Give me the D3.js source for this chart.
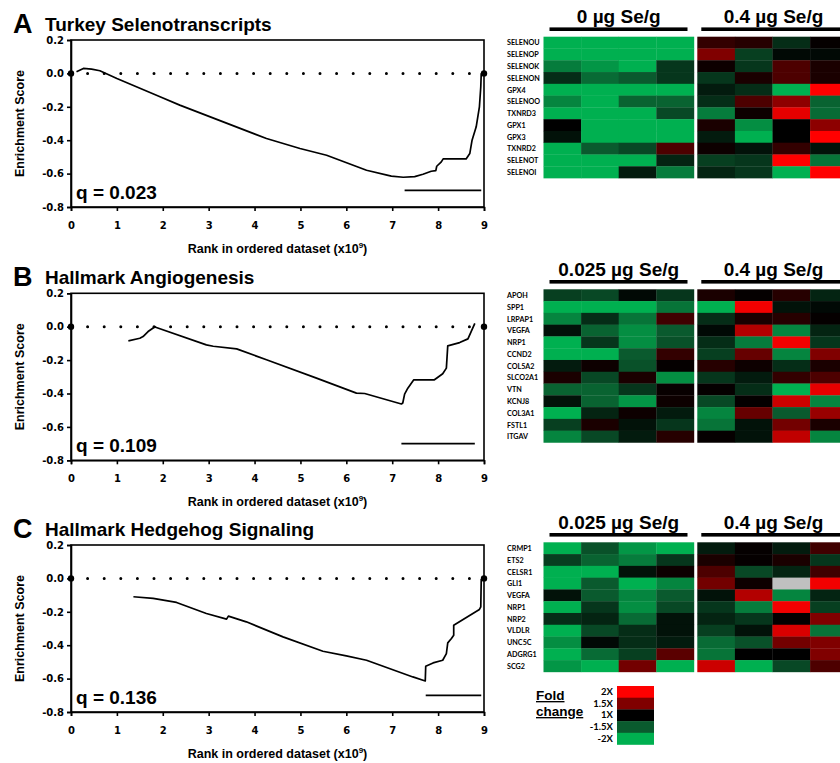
<!DOCTYPE html>
<html>
<head>
<meta charset="utf-8">
<script src="https://cdn.jsdelivr.net/npm/d3@7"></script>
<style>
  body { margin: 0; background: #fff; }
  svg { display: block; font-family: "Liberation Sans", Arial, sans-serif; }
</style>
</head>
<body>
<svg id="fig" width="840" height="763"></svg>
<script>
// ---- data ----
var rankTicks = [0, 1, 2, 3, 4, 5, 6, 7, 8, 9];
var esTicks = [0.2, 0.0, -0.2, -0.4, -0.6, -0.8];

// running enrichment score, [rank (x1e9), ES]
var curveA = [[0.12, 0.01], [0.27, 0.03], [0.45, 0.026], [0.63, 0.016], [1.0, -0.03], [1.94, -0.14],
  [2.37, -0.19], [4.26, -0.39], [4.99, -0.45], [5.57, -0.49], [6.44, -0.58], [6.98, -0.615],
  [7.24, -0.622], [7.49, -0.618], [7.67, -0.604], [7.85, -0.586], [7.95, -0.582], [7.97, -0.556],
  [8.07, -0.53], [8.11, -0.512], [8.61, -0.512], [8.69, -0.48], [8.74, -0.40], [8.83, -0.32],
  [8.90, -0.20], [8.93, -0.08], [8.94, 0.0]];
var curveB = [[1.25, -0.085], [1.50, -0.069], [1.57, -0.059], [1.68, -0.029], [1.83, 0.0], [1.86, -0.005],
  [2.95, -0.109], [3.10, -0.117], [3.61, -0.133], [4.26, -0.198], [5.35, -0.308], [6.22, -0.398],
  [6.40, -0.400], [7.20, -0.463], [7.23, -0.457], [7.27, -0.404], [7.34, -0.368], [7.47, -0.318],
  [7.92, -0.318], [8.10, -0.282], [8.18, -0.248], [8.21, -0.115], [8.47, -0.095], [8.65, -0.073],
  [8.80, 0.02]];
var curveC = [[1.36, -0.11], [1.79, -0.12], [2.30, -0.144], [2.95, -0.21], [3.39, -0.244], [3.43, -0.226],
  [3.82, -0.26], [4.62, -0.35], [5.49, -0.436], [6.0, -0.464], [6.44, -0.49], [7.45, -0.59],
  [7.72, -0.614], [7.73, -0.526], [7.89, -0.506], [8.10, -0.49], [8.18, -0.45], [8.21, -0.386],
  [8.29, -0.36], [8.34, -0.34], [8.34, -0.28], [8.90, -0.186], [8.93, -0.17], [8.94, -0.004]];

// leading-edge bar at ES = -0.7, [from, to]
var edgeA = [7.27, 8.94];
var edgeB = [7.20, 8.80];
var edgeC = [7.73, 8.94];

var titles = ["Turkey Selenotranscripts", "Hallmark Angiogenesis", "Hallmark Hedgehog Signaling"];
var letters = ["A", "B", "C"];
var qValues = ["0.023", "0.109", "0.136"];
var lowDose = ["0 \u00b5g Se/g", "0.025 \u00b5g Se/g", "0.025 \u00b5g Se/g"];
var highDose = "0.4 \u00b5g Se/g";

// heatmaps: -1 = -2X (green), 0 = 1X (black), 1 = 2X (red), null = missing
var genesA = ["SELENOU", "SELENOP", "SELENOK", "SELENON", "GPX4", "SELENOO", "TXNRD3", "GPX1", "GPX3", "TXNRD2", "SELENOT", "SELENOI"];
var lowA = [[-1, -1, -1, -1], [-1, -1, -1, -1], [-0.7, -0.85, -1, -0.3], [-0.25, -0.6, -0.5, -0.3],
  [-1, -1, -1, -1], [-0.75, -1, -0.55, -0.55], [-1, -1, -1, -0.4], [0, -1, -1, -1],
  [-0.1, -1, -1, -1], [-1, -0.5, -0.4, 0.3], [-1, -1, -1, -0.2], [-1, -1, -0.15, -0.7]];
var highA = [[0.2, 0.15, -0.25, 0.02], [0.5, -0.35, -0.05, -0.05], [0.05, -0.3, 0.3, 0.1], [-0.3, 0.1, 0.3, 0.1],
  [-0.15, -0.25, -1, 1], [-0.25, 0.3, 0.55, -0.55], [-0.7, 0.05, 0.9, -0.6], [0.1, -0.8, 0.0, 0.55],
  [-0.15, -1, 0.0, 1], [0.05, -0.1, 0.2, -0.1], [-0.35, -0.3, 1, -0.65], [-0.2, -0.3, -1, 1]];

var genesB = ["APOH", "SPP1", "LRPAP1", "VEGFA", "NRP1", "CCND2", "COL5A2", "SLCO2A1", "VTN", "KCNJ8", "COL3A1", "FSTL1", "ITGAV"];
var lowB = [[-0.35, -0.4, -0.05, -0.3], [-1, -1, -1, -0.65], [-0.75, -0.25, -0.65, 0.25], [-0.1, -0.55, -0.8, -0.5],
  [-1, -0.3, -0.8, -0.45], [-1, -1, -0.5, 0.2], [-0.15, 0.05, -0.45, 0.02], [0.1, -0.4, 0.1, -0.8],
  [-0.55, -0.55, -0.3, 0.03], [-0.1, -0.55, -0.85, 0.05], [-1, -0.2, 0.05, -0.15], [-0.35, 0.1, -0.1, -0.3],
  [-0.75, -0.4, -0.15, 0.15]];
var highB = [[0.1, 0.02, 0.15, -0.2], [-1, 0.95, -0.1, -0.05], [-0.25, 0.1, 0.15, 0.02], [-0.05, 0.7, -0.75, -0.2],
  [-0.25, -0.7, 0.95, -0.3], [-0.35, 0.4, -0.75, 0.5], [0.15, 0.05, -0.25, 0.1], [-0.3, -0.15, 0.2, 0.3],
  [0.02, -0.25, -1, 0.9], [-0.4, 0.02, 0.8, -0.75], [-0.75, 0.4, -0.5, 0.6], [-0.65, -0.1, 0.45, 0.1],
  [0.02, -0.1, 0.75, -0.75]];

var genesC = ["CRMP1", "ETS2", "CELSR1", "GLI1", "VEGFA", "NRP1", "NRP2", "VLDLR", "UNC5C", "ADGRG1", "SCG2"];
var lowC = [[-1, -0.45, -0.85, -1], [-0.35, -0.55, -0.7, -0.3], [-1, -1, -0.1, 0.05], [-1, -0.5, -1, -0.75],
  [-0.1, -0.5, -0.75, -0.5], [-1, -0.3, -0.8, -0.4], [-0.25, -0.2, -0.6, -0.1], [-1, -0.4, -0.25, -0.1],
  [-0.8, -0.05, -0.25, -0.15], [-1, -0.6, -0.35, 0.35], [-0.85, -1, 0.45, -1]];
var highC = [[-0.15, 0.02, -0.15, 0.25], [0.1, 0.02, 0.1, -0.3], [0.3, -0.4, -0.2, 0.25], [0.45, 0.05, null, 0.95],
  [-0.1, 0.7, -0.75, -0.2], [-0.3, -0.7, 0.95, -0.35], [-0.2, -0.3, 0.02, 0.5], [-0.35, -0.1, 0.85, -0.65],
  [-0.6, -0.45, 0.45, 0.5], [-0.65, 0.0, 0.0, 0.5], [0.8, -1, -0.4, 0.3]];

var legendLabels = ["2X", "1.5X", "1X", "-1.5X", "-2X"];
var legendValues = [1, 0.5, 0, -0.5, -1];

// ---- drawing ----
var svg = d3.select("#fig");
var color = d3.scaleLinear()
  .domain([-1, -0.5, 0, 0.5, 1])
  .range(["#00b050", "#0a5a2e", "#000000", "#800000", "#ff0000"])
  .clamp(true);

var panels = [
  { top: 40, curve: curveA, edge: edgeA, genes: genesA, low: lowA, high: highA, hmTop: 36.7 },
  { top: 293.3, curve: curveB, edge: edgeB, genes: genesB, low: lowB, high: highB, hmTop: 289.3 },
  { top: 545, curve: curveC, edge: edgeC, genes: genesC, low: lowC, high: highC, hmTop: 542.3 }
];

var plotW = [71, 484], plotH = 167;
var labelFont = "Lato, 'Open Sans', sans-serif";

panels.forEach(function(p, i) {
  var g = svg.append("g");
  var x = d3.scaleLinear().domain([0, 9]).range(plotW);
  var y = d3.scaleLinear().domain([-0.8, 0.2]).range([p.top + plotH, p.top]);

  // titles
  g.append("text").attr("x", 13).attr("y", p.top - 7)
    .attr("font-size", 27).attr("font-weight", "bold").text(letters[i]);
  g.append("text").attr("x", 45).attr("y", p.top - 9)
    .attr("font-size", 19).attr("font-weight", "bold").text(titles[i]);

  // frame
  g.append("rect").attr("x", x(0)).attr("y", y(0.2))
    .attr("width", x(9) - x(0)).attr("height", y(-0.8) - y(0.2))
    .attr("fill", "none").attr("stroke", "#000").attr("stroke-width", 1.6);

  var yAxis = g.append("g").attr("transform", "translate(" + x(0) + ",0)")
    .call(d3.axisLeft(y).tickValues(esTicks).tickSize(4).tickPadding(3)
      .tickFormat(function(d) { return d.toFixed(1); }));
  var xAxis = g.append("g").attr("transform", "translate(0," + y(-0.8) + ")")
    .call(d3.axisBottom(x).tickValues(rankTicks).tickSize(4).tickPadding(11));
  [yAxis, xAxis].forEach(function(a) {
    a.select(".domain").attr("stroke-width", 1.6);
    a.selectAll(".tick line").attr("stroke-width", 1.6);
    a.selectAll(".tick text").attr("font-size", 10).attr("font-weight", "bold")
      .attr("font-family", "'DejaVu Sans', sans-serif");
  });

  // axis titles
  g.append("text")
    .attr("transform", "translate(24," + (p.top + plotH / 2) + ") rotate(-90)")
    .attr("text-anchor", "middle").attr("font-size", 12.5).attr("font-weight", "bold")
    .text("Enrichment Score");
  var xt = g.append("text").attr("x", (plotW[0] + plotW[1]) / 2).attr("y", p.top + 213)
    .attr("text-anchor", "middle").attr("font-size", 12.5).attr("font-weight", "bold");
  xt.append("tspan").text("Rank in ordered dataset (x10");
  xt.append("tspan").attr("dy", -5).attr("font-size", 8).text("9");
  xt.append("tspan").attr("dy", 5).text(")");

  // zero line: dotted, with end dots
  g.append("line").attr("x1", x(0)).attr("x2", x(9)).attr("y1", y(0)).attr("y2", y(0))
    .attr("stroke", "#000").attr("stroke-width", 3).attr("stroke-linecap", "round")
    .attr("stroke-dasharray", "0,16.6");
  g.selectAll("circle.end").data([0, 9]).enter().append("circle")
    .attr("cx", function(d) { return x(d); }).attr("cy", y(0)).attr("r", 3.2).attr("fill", "#000");

  // running ES curve
  var line = d3.line().x(function(d) { return x(d[0]); }).y(function(d) { return y(d[1]); });
  g.append("path").datum(p.curve).attr("d", line)
    .attr("fill", "none").attr("stroke", "#000").attr("stroke-width", 1.7)
    .attr("stroke-linejoin", "round");

  // leading edge bar
  g.append("line").attr("x1", x(p.edge[0])).attr("x2", x(p.edge[1]))
    .attr("y1", y(-0.7)).attr("y2", y(-0.7)).attr("stroke", "#000").attr("stroke-width", 1.7);

  // q value
  g.append("text").attr("x", 76).attr("y", y(-0.8) - 8)
    .attr("font-size", 19).attr("font-weight", "bold").text("q = " + qValues[i]);

  // ---- heatmap ----
  var hmLeft = 543.5, cellW = 37.6, gap = 3.4, rowH = 11.78;
  var col = d3.scaleBand().domain([0, 1, 2, 3]).range([0, 4 * cellW]);
  var row = d3.scaleBand().domain(p.genes).range([p.hmTop, p.hmTop + p.genes.length * rowH]);
  var blocks = [
    { x0: hmLeft, data: p.low, label: lowDose[i] },
    { x0: hmLeft + 4 * cellW + gap, data: p.high, label: highDose }
  ];
  var barY = p.hmTop - 7.5;
  blocks.forEach(function(b, bi) {
    var bg = g.append("g").attr("transform", "translate(" + b.x0 + ",0)");
    p.genes.forEach(function(gene, r) {
      bg.selectAll(null).data(b.data[r]).enter().append("rect")
        .attr("x", function(d, c) { return col(c); })
        .attr("y", row(gene))
        .attr("width", col.bandwidth() + 0.3)
        .attr("height", row.bandwidth() + 0.3)
        .attr("fill", function(d) { return d === null ? "#c0c0c0" : color(d); });
    });
    // dose header with thick bar underneath
    g.append("rect").attr("x", b.x0 + (bi === 0 ? 6 : 4)).attr("y", barY - 1.8)
      .attr("width", bi === 0 ? 138 : 150).attr("height", 3.6).attr("fill", "#000");
    g.append("text").attr("x", b.x0 + 4 * cellW / 2 + (bi === 0 ? 0 : 1))
      .attr("y", barY - 6).attr("text-anchor", "middle")
      .attr("font-size", 19).attr("font-weight", "bold").text(b.label);
  });
  g.selectAll("text.gene").data(p.genes).enter().append("text")
    .attr("x", 507).attr("y", function(d) { return row(d) + rowH / 2 + 2.8; })
    .attr("font-family", labelFont)
    .attr("font-size", 7.2).attr("font-weight", "bold").text(function(d) { return d; });
});

// ---- fold-change legend ----
var lg = svg.append("g");
var lRow = d3.scaleBand().domain(legendLabels).range([686, 686 + 5 * 11.7]);
lg.selectAll("rect").data(legendLabels).enter().append("rect")
  .attr("x", 617).attr("y", function(d) { return lRow(d); })
  .attr("width", 37).attr("height", lRow.bandwidth() + 0.3)
  .attr("fill", function(d, i) { return color(legendValues[i]); });
lg.selectAll("text.lab").data(legendLabels).enter().append("text")
  .attr("x", 613).attr("y", function(d) { return lRow(d) + 9; })
  .attr("text-anchor", "end").attr("font-family", labelFont)
  .attr("font-size", 9.5).attr("font-weight", "bold")
  .text(function(d) { return d; });
lg.append("text").attr("x", 536).attr("y", 700).attr("font-size", 13.5).attr("font-weight", "bold")
  .attr("text-decoration", "underline").text("Fold");
lg.append("text").attr("x", 536).attr("y", 716).attr("font-size", 13.5).attr("font-weight", "bold")
  .attr("text-decoration", "underline").text("change");
</script>
</body>
</html>
